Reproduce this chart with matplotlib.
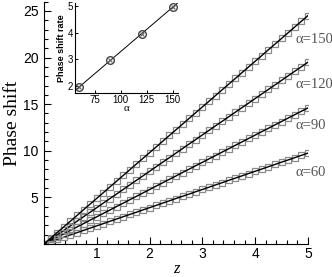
import matplotlib
matplotlib.use("Agg")
import matplotlib.pyplot as plt
import numpy as np
from matplotlib.ticker import MultipleLocator

# z positions of the markers
z = [0, 0.125, 0.25, 0.375, 0.5, 0.625, 0.75, 0.875, 1.0, 1.125, 1.25, 1.375,
     1.5, 1.625, 1.75, 1.875, 2.0, 2.125, 2.25, 2.375, 2.5, 2.625, 2.75, 2.875,
     3.0, 3.125, 3.25, 3.375, 3.5, 3.625, 3.75, 3.875, 4.0, 4.125, 4.25, 4.375,
     4.5, 4.625, 4.75, 4.875, 5.0]

phase_60 = [0, 0.24, 0.49, 0.73, 0.98, 1.22, 1.46, 1.71, 1.95, 2.19, 2.44, 2.68,
            2.93, 3.17, 3.41, 3.66, 3.90, 4.14, 4.39, 4.63, 4.88, 5.12, 5.36, 5.61,
            5.85, 6.09, 6.34, 6.58, 6.83, 7.07, 7.31, 7.56, 7.80, 8.04, 8.29, 8.53,
            8.78, 9.02, 9.26, 9.51, 9.75]
phase_90 = [0, 0.37, 0.73, 1.10, 1.46, 1.83, 2.19, 2.56, 2.92, 3.29, 3.65, 4.02,
            4.38, 4.75, 5.11, 5.48, 5.84, 6.21, 6.57, 6.94, 7.30, 7.67, 8.03, 8.40,
            8.76, 9.13, 9.49, 9.86, 10.22, 10.59, 10.95, 11.32, 11.68, 12.05, 12.41,
            12.78, 13.14, 13.51, 13.87, 14.24, 14.60]
phase_120 = [0, 0.49, 0.98, 1.46, 1.95, 2.44, 2.93, 3.41, 3.90, 4.39, 4.88, 5.36,
             5.85, 6.34, 6.83, 7.31, 7.80, 8.29, 8.78, 9.26, 9.75, 10.24, 10.73, 11.21,
             11.70, 12.19, 12.68, 13.16, 13.65, 14.14, 14.63, 15.11, 15.60, 16.09,
             16.58, 17.06, 17.55, 18.04, 18.53, 19.01, 19.50]
phase_150 = [0, 0.61, 1.23, 1.84, 2.45, 3.06, 3.68, 4.29, 4.90, 5.51, 6.13, 6.74,
             7.35, 7.96, 8.58, 9.19, 9.80, 10.41, 11.03, 11.64, 12.25, 12.86, 13.48,
             14.09, 14.70, 15.31, 15.93, 16.54, 17.15, 17.76, 18.38, 18.99, 19.60,
             20.21, 20.83, 21.44, 22.05, 22.66, 23.28, 23.89, 24.50]

labels = ["\u03b1=60", "\u03b1=90", "\u03b1=120", "\u03b1=150"]
label_pos = [(4.76, 7.7), (4.76, 12.7), (4.76, 17.1), (4.76, 21.9)]

# inset data
alpha = [60, 90, 120, 150]
rate = [1.97, 2.96, 3.95, 4.95]

sans = "Liberation Sans"
serif = "Liberation Serif"

fig = plt.figure(figsize=(3.32, 2.77), dpi=100)
ax = fig.add_axes([0.1325, 0.1191, 0.795, 0.875])

for ph, lab, pos in zip([phase_60, phase_90, phase_120, phase_150], labels, label_pos):
    ax.plot(z, ph, ls="none", marker="s", ms=4.2, mfc="none", mec="#8a8a8a", mew=0.9)
    ax.plot(z, ph, color="black", lw=1.0)
    ax.text(pos[0], pos[1], lab, family=serif, fontsize=10.5, color="#555555",
            ha="left", va="center")

ax.set_xlim(0, 5)
ax.set_ylim(0, 26)
ax.spines["top"].set_visible(False)
ax.spines["right"].set_visible(False)
ax.xaxis.set_minor_locator(MultipleLocator(0.2))
ax.yaxis.set_minor_locator(MultipleLocator(1))
ax.set_xticks([1, 2, 3, 4, 5])
ax.set_yticks([5, 10, 15, 20, 25])
ax.tick_params(which="both", direction="in", top=False, right=False)
ax.tick_params(which="major", length=5, width=0.8, labelsize=10)
ax.tick_params(axis="x", which="major", pad=2)
ax.tick_params(axis="y", which="major", pad=4)
ax.tick_params(which="minor", length=3, width=0.8)
for t in ax.get_xticklabels() + ax.get_yticklabels():
    t.set_family(sans)
ax.set_xlabel("z", family=serif, style="italic", fontsize=12, labelpad=0)
ax.set_ylabel("Phase shift", family=serif, fontsize=14, labelpad=1)

# inset
ins = fig.add_axes([0.226, 0.664, 0.31, 0.325])
ins.patch.set_alpha(0)
fit = np.polyfit(alpha, rate, 1)
xx = np.array([58, 155])
ins.plot(xx, np.polyval(fit, xx), color="black", lw=0.7)
ins.plot(alpha, rate, ls="none", marker="o", ms=5.5, mfc="none", mec="#444444", mew=1.0)
ins.plot(alpha, rate, ls="none", marker="x", ms=3, mec="#666666", mew=0.8)
ins.set_xlim(56, 155)
ins.set_ylim(1.74, 5.1)
ins.spines["top"].set_visible(False)
ins.spines["right"].set_visible(False)
ins.set_xticks([75, 100, 125, 150])
ins.set_yticks([2, 3, 4, 5])
ins.tick_params(which="both", direction="in", length=2.5, width=0.7, labelsize=7, pad=1.5)
for t in ins.get_xticklabels() + ins.get_yticklabels():
    t.set_family(sans)
ins.set_xlabel("\u03b1", family=serif, fontsize=8, labelpad=-1)
ins.set_ylabel("Phase shift rate", family=sans, fontsize=6.5, fontweight="bold", labelpad=1)

fig.savefig("out.png", dpi=100)
